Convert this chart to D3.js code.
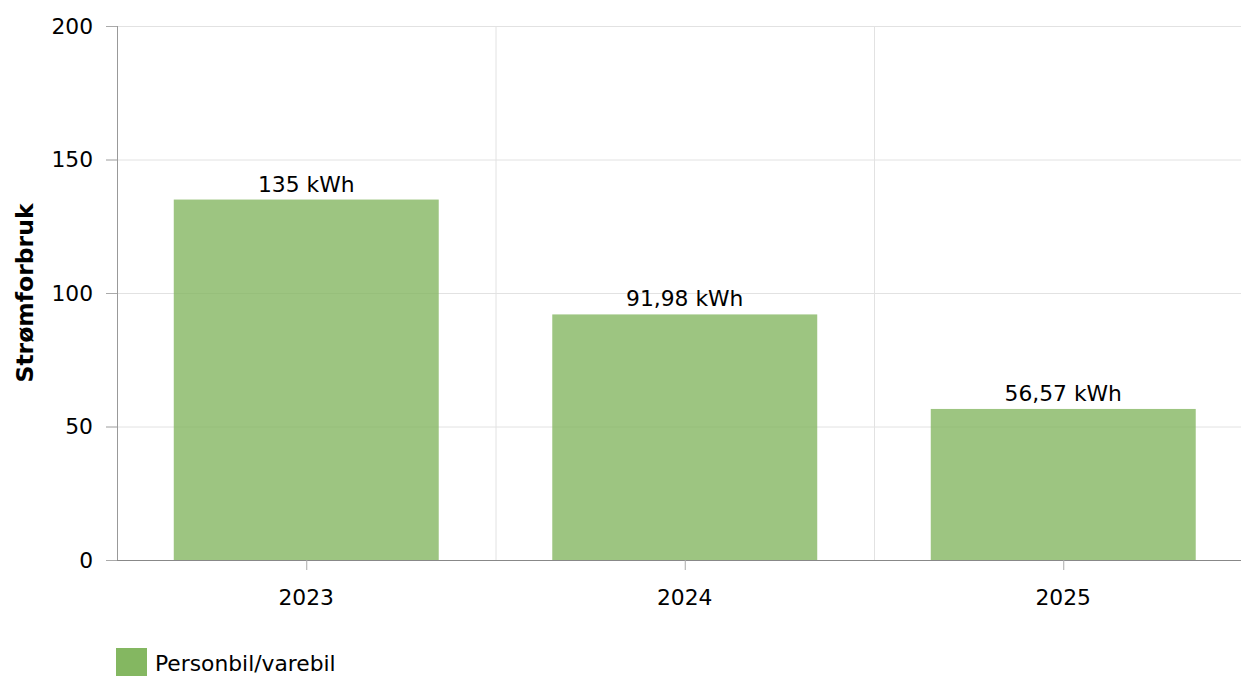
<!DOCTYPE html>
<html>
<head>
<meta charset="utf-8">
<script src="https://cdn.jsdelivr.net/npm/d3@7"></script>
<style>
  body { margin: 0; background: #fff; }
  svg { display: block; font-family: "DejaVu Sans", Verdana, sans-serif; }
</style>
</head>
<body>
<script>
// data
var years = ["2023", "2024", "2025"];
var values = [135, 91.98, 56.57];
var yTicks = [0, 50, 100, 150, 200];
var seriesName = "Personbil/varebil";
var yTitle = "Strømforbruk";

var svg = d3.select("body").append("svg")
    .attr("width", 1241)
    .attr("height", 676);

var margin = {top: 26, left: 117, bottom: 116};
var plotRight = 1252.5;
var plotBottom = 676 - margin.bottom;
var fs = 21.8;

var x = d3.scaleBand().domain(years).range([margin.left, plotRight])
    .paddingInner(0.3).paddingOuter(0.15);
var y = d3.scaleLinear().domain([0, 200]).range([plotBottom, margin.top]);

var fmt = function(v) { return String(v).replace(".", ",") + " kWh"; };

// horizontal grid
svg.append("g").selectAll("line")
    .data(yTicks)
    .join("line")
    .attr("x1", margin.left - 11)
    .attr("x2", plotRight)
    .attr("y1", function(d) { return y(d) + 0.5; })
    .attr("y2", function(d) { return y(d) + 0.5; })
    .attr("stroke", "#e2e2e2")
    .attr("stroke-width", 1);

// vertical grid at band edges
var step = x.step();
svg.append("g").selectAll("line")
    .data(years.slice(1))
    .join("line")
    .attr("x1", function(d) { return x(d) - x.paddingInner() * step / 2 + 0.5; })
    .attr("x2", function(d) { return x(d) - x.paddingInner() * step / 2 + 0.5; })
    .attr("y1", margin.top)
    .attr("y2", plotBottom)
    .attr("stroke", "#e2e2e2");

// y tick marks
svg.append("g").selectAll("line")
    .data(yTicks)
    .join("line")
    .attr("x1", margin.left - 11)
    .attr("x2", margin.left)
    .attr("y1", function(d) { return y(d) + 0.5; })
    .attr("y2", function(d) { return y(d) + 0.5; })
    .attr("stroke", "#aaa");

// bars
svg.append("g").selectAll("rect")
    .data(values)
    .join("rect")
    .attr("x", function(d, i) { return x(years[i]); })
    .attr("width", x.bandwidth())
    .attr("y", function(d) { return y(d); })
    .attr("height", function(d) { return y(0) - y(d); })
    .attr("fill", "#84b761")
    .attr("fill-opacity", 0.8);

// value labels
svg.append("g").selectAll("text")
    .data(values)
    .join("text")
    .attr("x", function(d, i) { return x(years[i]) + x.bandwidth() / 2; })
    .attr("y", function(d) { return y(d) - 8; })
    .attr("text-anchor", "middle")
    .attr("font-size", fs)
    .attr("fill", "#000")
    .text(fmt);

// axes lines
svg.append("line")
    .attr("x1", margin.left + 0.5).attr("x2", margin.left + 0.5)
    .attr("y1", margin.top).attr("y2", plotBottom)
    .attr("stroke", "#999");
svg.append("line")
    .attr("x1", margin.left).attr("x2", plotRight)
    .attr("y1", plotBottom + 0.5).attr("y2", plotBottom + 0.5)
    .attr("stroke", "#888");

// x ticks
svg.append("g").selectAll("line")
    .data(years)
    .join("line")
    .attr("x1", function(d) { return x(d) + x.bandwidth() / 2 + 0.5; })
    .attr("x2", function(d) { return x(d) + x.bandwidth() / 2 + 0.5; })
    .attr("y1", plotBottom)
    .attr("y2", plotBottom + 10)
    .attr("stroke", "#aaa");

// y tick labels
svg.append("g").selectAll("text")
    .data(yTicks)
    .join("text")
    .attr("x", margin.left - 24)
    .attr("y", function(d) { return y(d); })
    .attr("dy", "0.36em")
    .attr("text-anchor", "end")
    .attr("font-size", fs)
    .attr("fill", "#000")
    .text(function(d) { return d; });

// x tick labels
svg.append("g").selectAll("text")
    .data(years)
    .join("text")
    .attr("x", function(d) { return x(d) + x.bandwidth() / 2; })
    .attr("y", plotBottom + 45)
    .attr("text-anchor", "middle")
    .attr("font-size", fs)
    .attr("fill", "#000")
    .text(function(d) { return d; });

// y title
svg.append("text")
    .attr("transform", "translate(33," + ((margin.top + plotBottom) / 2) + ") rotate(-90)")
    .attr("text-anchor", "middle")
    .attr("font-size", 23.5)
    .attr("font-weight", "bold")
    .attr("fill", "#000")
    .text(yTitle);

// legend
var legend = svg.append("g").attr("transform", "translate(116,648)");
legend.append("rect")
    .attr("width", 31).attr("height", 28)
    .attr("fill", "#84b761");
legend.append("text")
    .attr("x", 39).attr("y", 23)
    .attr("font-size", fs)
    .attr("fill", "#000")
    .text(seriesName);
</script>
</body>
</html>
